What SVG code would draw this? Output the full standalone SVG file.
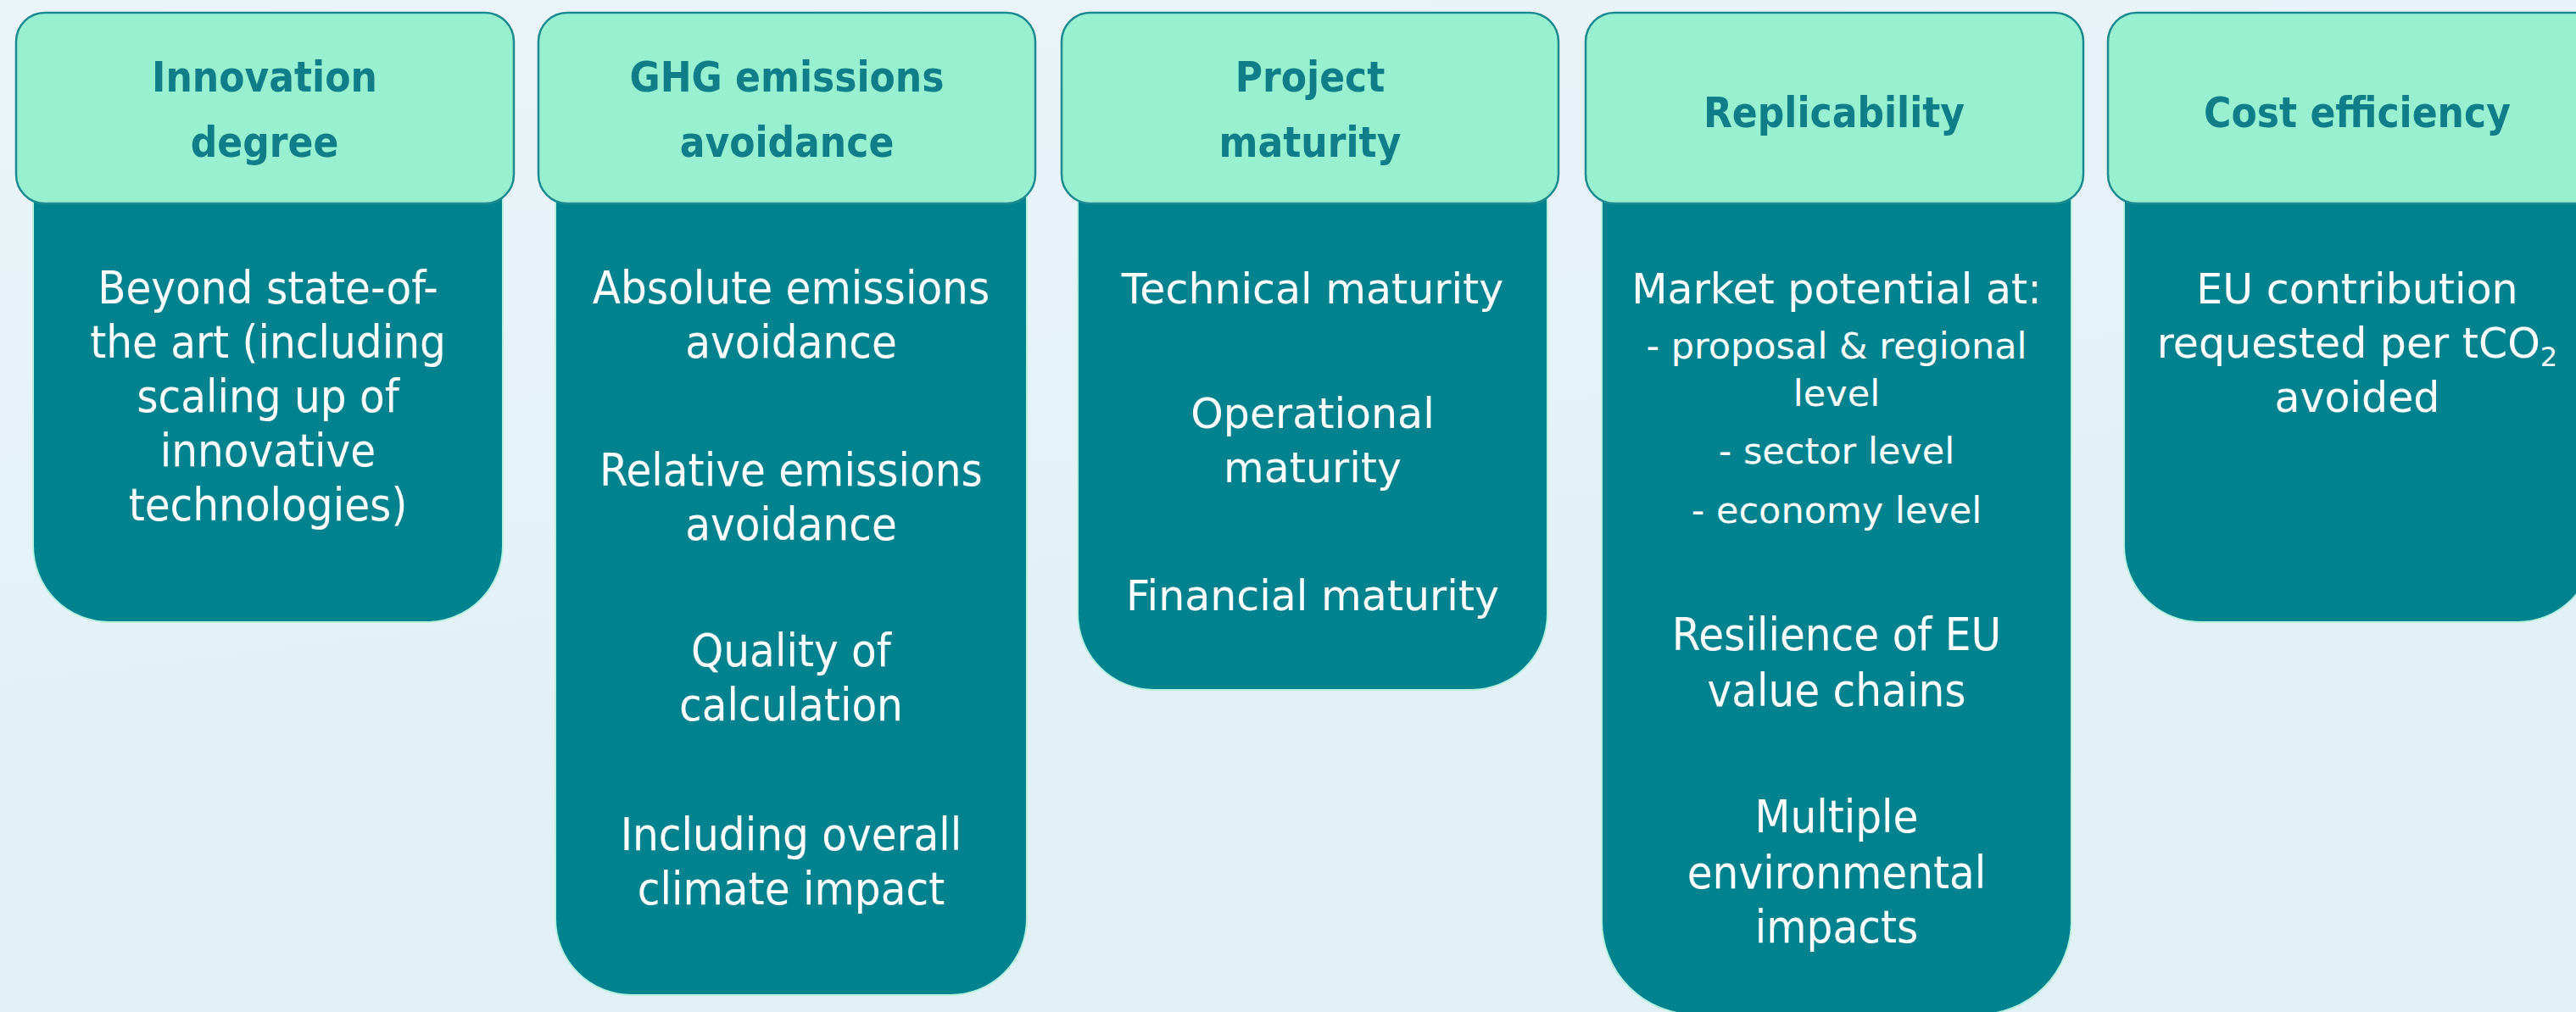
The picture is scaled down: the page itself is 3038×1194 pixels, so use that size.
<svg xmlns="http://www.w3.org/2000/svg" width="3038" height="1194" viewBox="0 0 3038 1194">
<defs>
<linearGradient id="bg" x1="0" y1="0" x2="0.3" y2="1">
<stop offset="0" stop-color="#EAF4F9"/>
<stop offset="1" stop-color="#E0F0F5"/>
</linearGradient>
</defs>
<style>
.body{fill:#00838F;stroke:#B8F2DF;stroke-width:2}
.head{fill:#97F0CF;stroke:#1C8A8E;stroke-width:2.5}
.ht{font-family:"DejaVu Sans Condensed","DejaVu Sans",sans-serif;font-weight:bold;font-size:49px;fill:#107E89;text-anchor:middle}
.bt{font-family:"DejaVu Sans",sans-serif;font-size:49px;fill:#FFFFFF;text-anchor:middle}
.bc{font-family:"DejaVu Sans Condensed","DejaVu Sans",sans-serif;font-size:54px;fill:#FFFFFF;text-anchor:middle}
.st{font-family:"DejaVu Sans",sans-serif;font-size:43px;fill:#FFFFFF;text-anchor:middle}
</style>
<rect x="0" y="0" width="3038" height="1194" fill="url(#bg)"/>
<g id="connectors"/>

<g id="innovation-degree">
<rect class="body" x="39" y="100" width="554" height="634" rx="90"/>
<rect class="head" x="19" y="15" width="587" height="225" rx="34"/>
<text class="ht" x="312" y="108">Innovation</text>
<text class="ht" x="312" y="185">degree</text>
<text class="bc" x="316" y="358">Beyond state-of-</text>
<text class="bc" x="316" y="422">the art (including</text>
<text class="bc" x="316" y="486">scaling up of</text>
<text class="bc" x="316" y="550">innovative</text>
<text class="bc" x="316" y="614">technologies)</text>
</g>

<g id="ghg-emissions-avoidance">
<rect class="body" x="655" y="100" width="556" height="1074" rx="90"/>
<rect class="head" x="635" y="15" width="586" height="225" rx="34"/>
<text class="ht" x="928" y="108">GHG emissions</text>
<text class="ht" x="928" y="185">avoidance</text>
<text class="bc" x="933" y="358">Absolute emissions</text>
<text class="bc" x="933" y="422">avoidance</text>
<text class="bc" x="933" y="573">Relative emissions</text>
<text class="bc" x="933" y="637">avoidance</text>
<text class="bc" x="933" y="786">Quality of</text>
<text class="bc" x="933" y="850">calculation</text>
<text class="bc" x="933" y="1003">Including overall</text>
<text class="bc" x="933" y="1067">climate impact</text>
</g>

<g id="project-maturity">
<rect class="body" x="1271" y="100" width="554" height="714" rx="90"/>
<rect class="head" x="1252" y="15" width="586" height="225" rx="34"/>
<text class="ht" x="1545" y="108">Project</text>
<text class="ht" x="1545" y="185">maturity</text>
<text class="bt" x="1548" y="358">Technical maturity</text>
<text class="bt" x="1548" y="505">Operational</text>
<text class="bt" x="1548" y="569">maturity</text>
<text class="bt" x="1548" y="720">Financial maturity</text>
</g>

<g id="replicability">
<rect class="body" x="1889" y="100" width="554" height="1097" rx="110"/>
<rect class="head" x="1870" y="15" width="587" height="225" rx="34"/>
<text class="ht" x="2163" y="150">Replicability</text>
<text class="bt" x="2166" y="358">Market potential at:</text>
<text class="st" x="2166" y="423">- proposal &amp; regional</text>
<text class="st" x="2166" y="479">level</text>
<text class="st" x="2166" y="547">- sector level</text>
<text class="st" x="2166" y="617">- economy level</text>
<text class="bc" x="2166" y="767">Resilience of EU</text>
<text class="bc" x="2166" y="833">value chains</text>
<text class="bc" x="2166" y="982">Multiple</text>
<text class="bc" x="2166" y="1048">environmental</text>
<text class="bc" x="2166" y="1112">impacts</text>
</g>

<g id="cost-efficiency">
<rect class="body" x="2505" y="100" width="554" height="634" rx="90"/>
<rect class="head" x="2486" y="15" width="587" height="225" rx="34"/>
<text class="ht" x="2780" y="150">Cost efficiency</text>
<text class="bt" x="2780" y="358">EU contribution</text>
<text class="bt" x="2780" y="422">requested per tCO<tspan font-size="32" dy="10">2</tspan></text>
<text class="bt" x="2780" y="486">avoided</text>
</g>
</svg>
